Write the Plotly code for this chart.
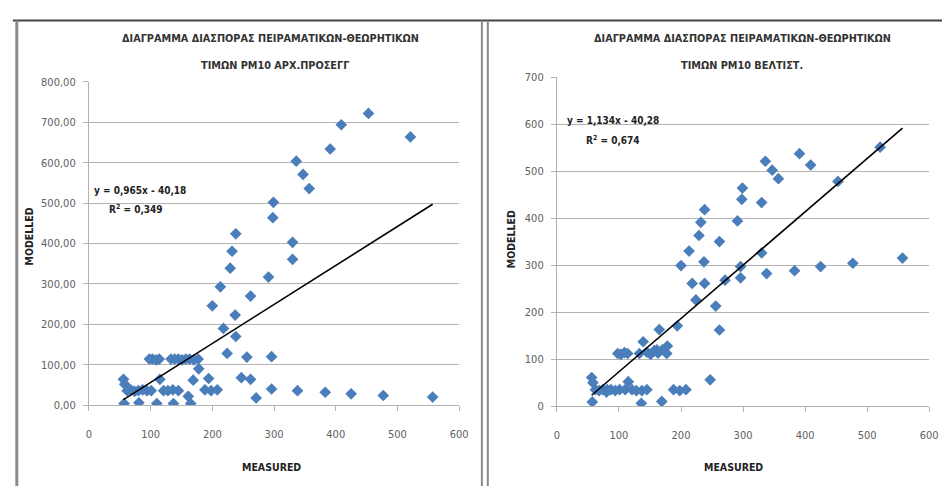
import plotly.graph_objects as go

# Measured PM10 concentrations and the two modelled series
measured = [557, 521, 477, 453, 425, 409, 391, 383, 357, 347, 336, 338, 330, 330,
            299, 298, 296, 296, 291, 271, 262, 262, 256, 247, 238, 237, 238, 232,
            229, 224, 218, 213, 200, 194, 188, 198, 208, 178, 169, 165, 161,
            133, 139, 145, 151, 157, 163, 170, 177, 98, 103, 109, 114, 115,
            121, 128, 136, 145, 137, 110, 81, 57, 56, 58,
            62, 68, 74, 80, 87, 94, 101]
modelled_initial = [20, 664, 24, 722, 28, 694, 634, 32, 536, 571, 604, 36, 403, 361,
                    502, 464, 120, 40, 317, 18, 270, 64, 119, 68, 424, 223, 170, 381,
                    339, 128, 190, 293, 246, 66, 38, 36, 38, 90, 62, 4, 22,
                    114, 114, 114, 112, 114, 114, 112, 114, 114, 114, 112, 114, 64,
                    36, 36, 38, 36, 4, 4, 6, 4, 64, 52,
                    36, 38, 34, 36, 38, 36, 36]
modelled_optimal = [315, 551, 304, 478, 297, 513, 537, 288, 484, 502, 521, 282, 433, 326,
                    464, 440, 297, 273, 394, 268, 350, 162, 213, 56, 418, 307, 261, 391,
                    363, 226, 261, 330, 299, 171, 35, 33, 35, 128, 10, 163, 120,
                    112, 137, 115, 110, 118, 113, 120, 112, 112, 110, 114, 112, 52,
                    35, 33, 6, 35, 33, 35, 35, 9, 61, 50,
                    35, 33, 35, 30, 35, 33, 35]

# Linear trendlines (slope, intercept, R²) as printed on each chart
fit_initial = (0.965, -40.18, 0.349)
fit_optimal = (1.134, -40.28, 0.674)

title_line1 = "ΔΙΑΓΡΑΜΜΑ ΔΙΑΣΠΟΡΑΣ ΠΕΙΡΑΜΑΤΙΚΩΝ-ΘΕΩΡΗΤΙΚΩΝ"
title_line2 = ["ΤΙΜΩΝ PM10 ΑΡΧ.ΠΡΟΣΕΓΓ", "ΤΙΜΩΝ PM10 ΒΕΛΤΙΣΤ."]
x_ticks = [0, 100, 200, 300, 400, 500, 600]
y_ticks_initial = [0, 100, 200, 300, 400, 500, 600, 700, 800]
y_ticks_optimal = [0, 100, 200, 300, 400, 500, 600, 700]

W, H = 951, 493
FONT = "Liberation Sans Narrow, Arial Narrow, DejaVu Sans Condensed, sans-serif"
BLUE = "#4A7EBB"
GRID = "#B3B3B3"


def px(x):
    return x / W


def py(y):
    return 1 - y / H


def fmt(v, decimals):
    s = f"{v:.{decimals}f}"
    return s.replace(".", ",")


fig = go.Figure()

panels = [
    dict(xa="x", ya="y", y=modelled_initial, fit=fit_initial),
    dict(xa="x2", ya="y2", y=modelled_optimal, fit=fit_optimal),
]
x_lo, x_hi = min(measured), max(measured)
for p in panels:
    fig.add_trace(go.Scatter(
        x=measured, y=p["y"], mode="markers", xaxis=p["xa"], yaxis=p["ya"],
        marker=dict(symbol="diamond", size=9, color=BLUE, line=dict(width=0)),
        hoverinfo="x+y"))
    a, b, _ = p["fit"]
    fig.add_trace(go.Scatter(
        x=[x_lo, x_hi], y=[a * x_lo + b, a * x_hi + b], mode="lines",
        xaxis=p["xa"], yaxis=p["ya"], line=dict(color="black", width=1.6),
        hoverinfo="skip"))

tick_font = dict(family=FONT, size=11, color="#606060")
common_x = dict(range=[0, 600], tickvals=x_ticks, ticktext=[str(t) for t in x_ticks],
                showgrid=False, zeroline=False, showline=True, linecolor=GRID,
                linewidth=1, ticks="outside", ticklen=5, tickcolor=GRID,
                tickfont=tick_font, ticklabelstandoff=14, fixedrange=True)
common_y = dict(showgrid=True, gridcolor=GRID, gridwidth=1, zeroline=False,
                showline=True, linecolor=GRID, linewidth=1, ticks="outside",
                ticklen=5, tickcolor=GRID, tickfont=tick_font,
                ticklabelstandoff=5, fixedrange=True)

fig.update_layout(
    width=W, height=H, margin=dict(l=0, r=0, t=0, b=0),
    paper_bgcolor="white", plot_bgcolor="white", showlegend=False,
    xaxis=dict(domain=[px(87), px(462)], anchor="y", **common_x),
    yaxis=dict(domain=[py(410), py(78)], anchor="x", range=[0, 800],
               tickvals=y_ticks_initial,
               ticktext=[fmt(t, 2) for t in y_ticks_initial], **common_y),
    xaxis2=dict(domain=[px(561), px(938)], anchor="y2", **common_x),
    yaxis2=dict(domain=[py(411), py(73)], anchor="x2", range=[0, 700],
                tickvals=y_ticks_optimal,
                ticktext=[str(t) for t in y_ticks_optimal], **common_y),
)

title_font = dict(family=FONT, size=10.8, color="#333333")
label_font = dict(family=FONT, size=10.5, color="#222222")
eq_font = dict(family=FONT, size=10, color="#222222")

annotations = [
    # chart titles
    dict(x=px(271), y=py(33), text=f"<b>{title_line1}</b>", font=title_font),
    dict(x=px(275), y=py(61), text=f"<b>{title_line2[0]}</b>", font=title_font),
    dict(x=px(749), y=py(33), text=f"<b>{title_line1}</b>", font=title_font),
    dict(x=px(748), y=py(61), text=f"<b>{title_line2[1]}</b>", font=title_font),
    # axis titles
    dict(x=px(272), y=py(473), text="<b>MEASURED</b>", font=label_font),
    dict(x=px(740), y=py(473), text="<b>MEASURED</b>", font=label_font),
    dict(x=px(26), y=py(237), text="<b>MODELLED</b>", font=label_font, textangle=-90),
    dict(x=px(514), y=py(240), text="<b>MODELLED</b>", font=label_font, textangle=-90),
]
for (a, b, r2), (ex, ey, rx, ry) in zip(
        [fit_initial, fit_optimal],
        [(139, 190, 135, 209), (618, 118, 618, 138)]):
    sign = "-" if b < 0 else "+"
    annotations.append(dict(x=px(ex), y=py(ey),
                            text=f"<b>y = {fmt(a, 3)}x {sign} {fmt(abs(b), 2)}</b>",
                            font=eq_font))
    annotations.append(dict(x=px(rx), y=py(ry),
                            text=f"<b>R<sup>2</sup> = {fmt(r2, 3)}</b>",
                            font=eq_font))
for ann in annotations:
    ann.update(xref="paper", yref="paper", showarrow=False,
               xanchor="center", yanchor="middle")
fig.update_layout(annotations=annotations)

# panel frame: top rule, left edge and double divider between charts
frame = [
    dict(x0=px(10), x1=1, y0=py(15), y1=py(15), line=dict(color="#444444", width=2)),
    dict(x0=px(14), x1=px(14), y0=py(15), y1=0, line=dict(color="#8A8A8A", width=3)),
    dict(x0=px(485), x1=px(485), y0=py(15), y1=0, line=dict(color="#8A8A8A", width=2)),
    dict(x0=px(491), x1=px(491), y0=py(15), y1=0, line=dict(color="#8A8A8A", width=2)),
]
for s in frame:
    s.update(type="line", xref="paper", yref="paper", layer="above")
fig.update_layout(shapes=frame)

fig.write_html("out.html")
